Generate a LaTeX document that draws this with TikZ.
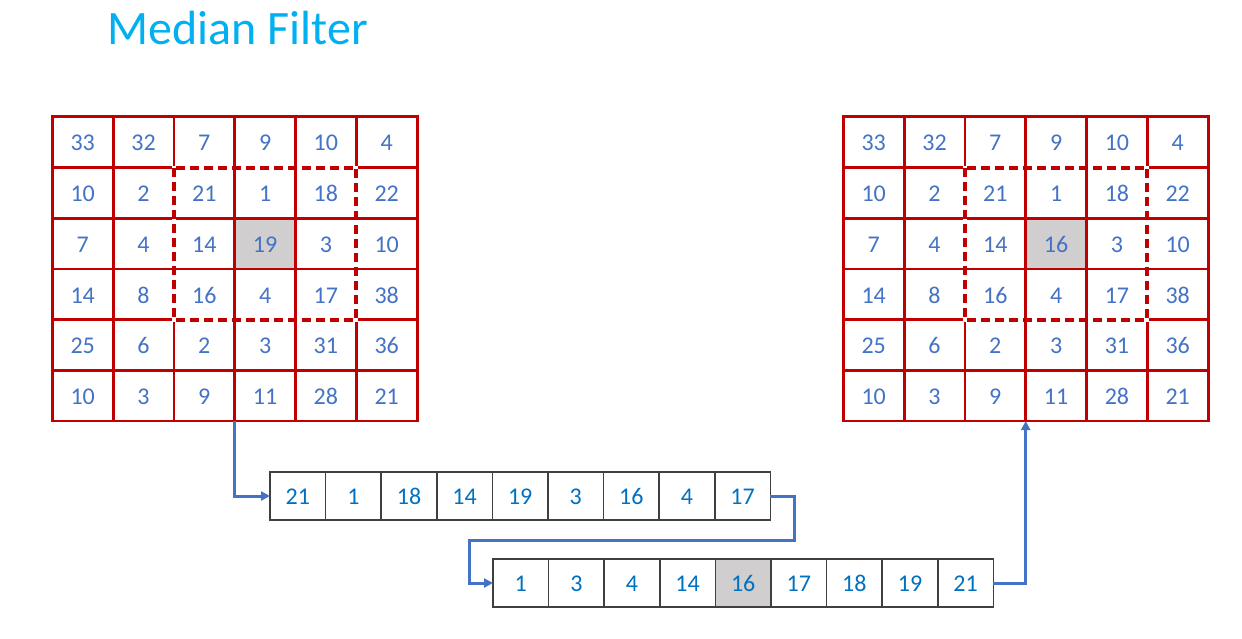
\documentclass[tikz,border=0pt]{standalone}
\usepackage{fontspec}
\setmainfont{Carlito}
\usetikzlibrary{arrows.meta, positioning, calc}
\definecolor{gridred}{RGB}{192,0,0}
\definecolor{cellblue}{RGB}{68,114,196}
\definecolor{listblue}{RGB}{0,112,192}
\definecolor{titleblue}{RGB}{0,176,240}
\definecolor{medgray}{RGB}{208,206,206}
\definecolor{listgray}{RGB}{64,64,64}

\begin{document}
\begin{tikzpicture}[x=1pt, y=-1pt,
  pix/.style={draw=gridred, line width=2.8pt, minimum width=60.8pt, minimum height=50.7pt, inner sep=0pt, outer sep=0pt, text height=17.5pt, text depth=0pt, text=cellblue, font=\fontsize{24}{24}\selectfont},
  slot/.style={draw=listgray, line width=1.6pt, minimum width=55.6pt, minimum height=48pt, inner sep=0pt, outer sep=0pt, text height=17pt, text depth=0pt, text=listblue, font=\fontsize{24}{24}\selectfont},
  window/.style={draw=gridred, line width=4pt, dash pattern=on 9pt off 5pt},
  conn/.style={draw=cellblue, line width=3pt, -{Triangle[length=9pt,width=9pt]}}]
  \useasboundingbox (0,0) rectangle (1242,638);

  % Title
  \node[anchor=west, text=titleblue, font=\fontsize{48}{48}\selectfont] (title) at (104,28) {Median Filter};

  % Input and output images (6x6), centre pixel shaded
  \foreach \g/\xo/\cval in {L/52.3/19, R/843.3/16} {
    \foreach \row [count=\r from 0] in {{33,32,7,9,10,4},{10,2,21,1,18,22},{7,4,14,\cval,3,10},{14,8,16,4,17,38},{25,6,2,3,31,36},{10,3,9,11,28,21}} {
      \foreach \v [count=\c from 0] in \row {
        \tikzset{cellfill/.style={}}
        \ifnum\r=2 \ifnum\c=3 \tikzset{cellfill/.style={fill=medgray}}\fi\fi
        \node[pix, cellfill] (\g-\r-\c) at ({\xo+60.8*(\c+0.5)}, {116.8+50.7*(\r+0.5)}) {\v};
      }
    }
    % 3x3 window (white first so the gaps show)
    \draw[white, line width=4pt] (\g-1-2.north west) rectangle (\g-3-4.south east);
    \draw[window] (\g-1-2.north west) rectangle (\g-3-4.south east);
  }

  % Window values, unsorted
  \foreach \v [count=\i] in {21,1,18,14,19,3,16,4,17}
    \node[slot] (A-\i) at ({270+55.6*(\i-0.5)}, 496) {\v};

  % Sorted values, median shaded
  \foreach \v [count=\i] in {1,3,4,14,16,17,18,19,21} {
    \tikzset{cellfill/.style={}}
    \ifnum\i=5 \tikzset{cellfill/.style={fill=medgray}}\fi
    \node[slot, cellfill] (B-\i) at ({493+55.6*(\i-0.5)}, 583) {\v};
  }

  % Connectors
  \coordinate (bend) at (794,540);
  \draw[conn] (L-5-3.south west) |- (A-1.west);
  \draw[conn] (A-9.east) -| (bend) -| ([xshift=-24pt]B-1.west) -- (B-1.west);
  \draw[conn] (B-9.east) -| (R-5-3.south west);
\end{tikzpicture}
\end{document}
